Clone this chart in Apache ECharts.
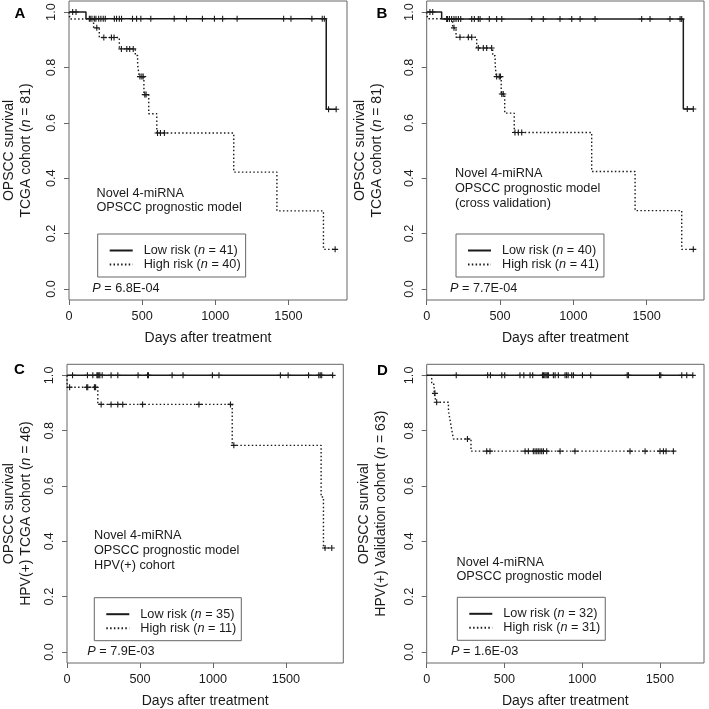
<!DOCTYPE html>
<html><head><meta charset="utf-8">
<script src="https://cdn.jsdelivr.net/npm/echarts@6/dist/echarts.min.js"></script>
<style>html,body{margin:0;padding:0;background:#fff}#c{width:709px;height:709px}</style>
</head><body><div id="c"></div>
<script>
// ---------- Data (days after treatment, survival) ----------
const xTicks = [0, 500, 1000, 1500];
const yTicks = [0, 0.2, 0.4, 0.6, 0.8, 1.0];

// Panel A
const lowA_time = [0, 116, 1758, 1826];
const lowA_surv = [1, 0.976, 0.649, 0.649];
const lowA_cens = [25, 48, 139, 145, 157, 173, 184, 203, 218, 234, 248, 310, 325, 344, 359, 434, 462, 491, 559, 719, 803, 912, 994, 1050, 1149, 1467, 1517, 1660, 1731, 1745, 1774, 1826];
const highA_time = [0, 6, 168, 207, 344, 453, 469, 480, 512, 545, 600, 1126, 1421, 1739, 1819];
const highA_surv = [1, 0.975, 0.943, 0.908, 0.867, 0.843, 0.81, 0.767, 0.702, 0.633, 0.563, 0.422, 0.282, 0.143, 0.143];
const highA_cens = [190, 238, 290, 308, 358, 395, 415, 439, 485, 498, 507, 518, 527, 605, 625, 652, 1819];

// Panel B
const lowB_time = [0, 102, 1750, 1818];
const lowB_surv = [1, 0.975, 0.65, 0.65];
const lowB_cens = [22, 41, 136, 142, 155, 170, 186, 200, 216, 232, 307, 325, 352, 364, 427, 477, 512, 716, 795, 909, 989, 1046, 1148, 1466, 1523, 1659, 1728, 1739, 1777, 1818];
const highB_time = [0, 6, 177, 200, 341, 450, 467, 474, 508, 532, 597, 1125, 1421, 1739, 1818];
const highB_surv = [1, 0.976, 0.943, 0.909, 0.870, 0.842, 0.81, 0.767, 0.704, 0.635, 0.565, 0.424, 0.283, 0.143, 0.143];
const highB_cens = [186, 227, 284, 307, 352, 386, 409, 443, 477, 495, 503, 512, 522, 602, 625, 648, 1818];

// Panel C
const lowC_time = [0, 1820];
const lowC_surv = [1, 1];
const lowC_cens = [38, 140, 177, 205, 211, 218, 225, 241, 302, 348, 487, 552, 558, 720, 795, 996, 1041, 1462, 1515, 1655, 1725, 1735, 1745, 1820];
const highC_time = [0, 1, 211, 1132, 1741, 1757, 1814];
const highC_surv = [1, 0.957, 0.895, 0.747, 0.56, 0.376, 0.376];
const highC_cens = [18, 135, 142, 188, 196, 234, 302, 348, 382, 518, 904, 1120, 1143, 1768, 1814];

// Panel D
const lowD_time = [0, 1712];
const lowD_surv = [1, 1];
const lowD_cens = [190, 392, 410, 483, 502, 600, 625, 665, 682, 745, 752, 760, 768, 776, 783, 815, 826, 847, 890, 900, 910, 933, 944, 1002, 1055, 1290, 1298, 1498, 1506, 1641, 1673, 1712];
const highD_time = [0, 32, 48, 60, 140, 150, 160, 172, 285, 1587];
const highD_surv = [1, 0.968, 0.935, 0.903, 0.871, 0.839, 0.806, 0.77, 0.726, 0.726];
const highD_cens = [53, 64, 262, 386, 407, 633, 654, 686, 697, 708, 718, 729, 740, 751, 772, 858, 954, 1308, 1405, 1501, 1523, 1540, 1587];

// Text
const noteA = ['Novel 4-miRNA', 'OPSCC prognostic model'];
const noteB = ['Novel 4-miRNA', 'OPSCC prognostic model', '(cross validation)'];
const noteC = ['Novel 4-miRNA', 'OPSCC prognostic model', 'HPV(+) cohort'];
const noteD = ['Novel 4-miRNA', 'OPSCC prognostic model'];
const xTitle = 'Days after treatment';

// ---------- Layout ----------
const FONT = '"Liberation Sans", Arial, Helvetica, sans-serif';
const FS = 12.7;
const INK = '#1a1a1a';
const BOX = '#666';

const panels = [
  {letter:'A', grid:{left:68.3, top:1, width:278.7, height:299}, xMax:1900,
   yTitle:'OPSCC survival\nTCGA cohort ({i|n} = 81)', yGap:34,
   lowName:'Low risk (n = 41)', highName:'High risk (n = 40)',
   low:[lowA_time, lowA_surv, lowA_cens], high:[highA_time, highA_surv, highA_cens],
   note:noteA, noteXY:[96.5, 186], legXY:[97.7, 234], p:'6.8E-04', pXY:[92.3, 288.5], letXY:[20, 13.5]},
  {letter:'B', grid:{left:426.7, top:1, width:277.3, height:299}, xMax:1891,
   yTitle:'OPSCC survival\nTCGA cohort ({i|n} = 81)', yGap:41,
   lowName:'Low risk (n = 40)', highName:'High risk (n = 41)',
   low:[lowB_time, lowB_surv, lowB_cens], high:[highB_time, highB_surv, highB_cens],
   note:noteB, noteXY:[455, 166.5], legXY:[456, 234], p:'7.7E-04', pXY:[450, 288.5], letXY:[382, 13.5]},
  {letter:'C', grid:{left:65.7, top:364.3, width:277.6, height:299.7}, xMax:1893,
   yTitle:'OPSCC survival\nHPV(+) TCGA cohort ({i|n} = 46)', yGap:32,
   lowName:'Low risk (n = 35)', highName:'High risk (n = 11)',
   low:[lowC_time, lowC_surv, lowC_cens], high:[highC_time, highC_surv, highC_cens],
   note:noteC, noteXY:[94, 528.5], legXY:[94.3, 597.7], p:'7.9E-03', pXY:[87.3, 651], letXY:[19.5, 370]},
  {letter:'D', grid:{left:426.7, top:364.3, width:277.3, height:299.7}, xMax:1784,
   yTitle:'OPSCC survival\nHPV(+) Validation cohort ({i|n} = 63)', yGap:37,
   lowName:'Low risk (n = 32)', highName:'High risk (n = 31)',
   low:[lowD_time, lowD_surv, lowD_cens], high:[highD_time, highD_surv, highD_cens],
   note:noteD, noteXY:[456.5, 555], legXY:[457.3, 597.3], p:'1.6E-03', pXY:[451, 651], letXY:[382.5, 371]}
];

function survAt(times, survs, t) {
  let v = survs[0];
  for (let i = 0; i < times.length; i++) { if (times[i] <= t) v = survs[i]; }
  return v;
}
const PLUS = 'path://M5 0V10M0 5H10';
const DOTTED = [1.5, 2.3];

const option = {
  animation: false,
  backgroundColor: '#fff',
  grid: [], xAxis: [], yAxis: [], series: [], legend: [], graphic: []
};

panels.forEach((p, i) => {
  option.grid.push(Object.assign({show:true, borderColor:BOX, borderWidth:1, backgroundColor:'transparent'}, p.grid));
  option.xAxis.push({
    type:'value', gridIndex:i, min:0, max:p.xMax, position:'bottom',
    axisLine:{show:false, onZero:false}, splitLine:{show:false},
    axisTick:{show:true, inside:false, customValues:xTicks, length:5, lineStyle:{color:BOX}},
    axisLabel:{customValues:xTicks, formatter:v => String(v), color:INK, fontFamily:FONT, fontSize:FS, margin:10},
    name:xTitle, nameLocation:'middle', nameGap:31,
    nameTextStyle:{color:INK, fontFamily:FONT, fontSize:14}
  });
  option.yAxis.push({
    type:'value', gridIndex:i, min:-0.04, max:1.04, position:'left',
    axisLine:{show:false, onZero:false}, splitLine:{show:false},
    axisTick:{show:true, inside:false, customValues:yTicks, length:5, lineStyle:{color:BOX}},
    axisLabel:{customValues:yTicks, rotate:90, formatter:v => v.toFixed(1), color:INK, fontFamily:FONT, fontSize:FS, margin:11},
    name:p.yTitle, nameLocation:'middle', nameRotate:90, nameGap:p.yGap,
    nameTextStyle:{color:INK, fontFamily:FONT, fontSize:14, lineHeight:17, align:'center',
      rich:{i:{fontStyle:'italic', fontFamily:FONT, fontSize:14, lineHeight:17, color:INK}}}
  });
  const mk = (arr, name, dotted) => {
    const [t, s, c] = arr;
    option.series.push({
      name, type:'line', step:'end', xAxisIndex:i, yAxisIndex:i,
      data:t.map((v, k) => [v, s[k]]), symbol:'none', showSymbol:false, z:3,
      lineStyle:{color:INK, width: dotted ? 1.4 : 1.5, type: dotted ? DOTTED : 'solid'},
      itemStyle:{color:INK}
    });
    option.series.push({
      name: name + ' censored', type:'scatter', xAxisIndex:i, yAxisIndex:i, silent:true, z:4,
      data:c.map(v => [v, survAt(t, s, v)]), symbol:PLUS, symbolSize:6,
      itemStyle:{color:'transparent', borderColor:INK, borderWidth:1.1, opacity:1}
    });
  };
  mk(p.low, p.lowName, false);
  mk(p.high, p.highName, true);
  option.legend.push({
    data:[p.lowName, p.highName], left:p.legXY[0], top:p.legXY[1], orient:'vertical',
    itemWidth:23, itemHeight:14, itemGap:1, padding:[10,5,6,11],
    borderColor:BOX, borderWidth:1, borderRadius:0, selectedMode:false,
    itemStyle:{color:'transparent', borderColor:'transparent', borderWidth:0, opacity:0},
    textStyle:{color:INK, fontFamily:FONT, fontSize:FS, padding:[0,0,0,6],
      rich:{i:{fontStyle:'italic', color:INK, fontFamily:FONT, fontSize:FS}}},
    formatter: name => name.replace(/\(n = /, '({i|n} = ')
  });
  option.graphic.push({
    type:'text', x:p.letXY[0], y:p.letXY[1], silent:true,
    style:{text:p.letter, fill:'#000', fontFamily:FONT, fontSize:15, fontWeight:'bold', align:'center', verticalAlign:'middle'}
  });
  option.graphic.push({
    type:'text', x:p.noteXY[0], y:p.noteXY[1], silent:true,
    style:{text:p.note.join('\n'), fill:INK, fontFamily:FONT, fontSize:FS, lineHeight:14.6, align:'left', verticalAlign:'top'}
  });
  option.graphic.push({
    type:'text', x:p.pXY[0], y:p.pXY[1], silent:true,
    style:{text:'{i|P} = ' + p.p, fill:INK, fontFamily:FONT, fontSize:FS, align:'left', verticalAlign:'middle',
      rich:{i:{fontStyle:'italic', fontFamily:FONT, fontSize:FS, fill:INK}}}
  });
});

const chart = echarts.init(document.getElementById('c'), null, {renderer:'canvas'});
chart.setOption(option);
</script>
</body></html>
